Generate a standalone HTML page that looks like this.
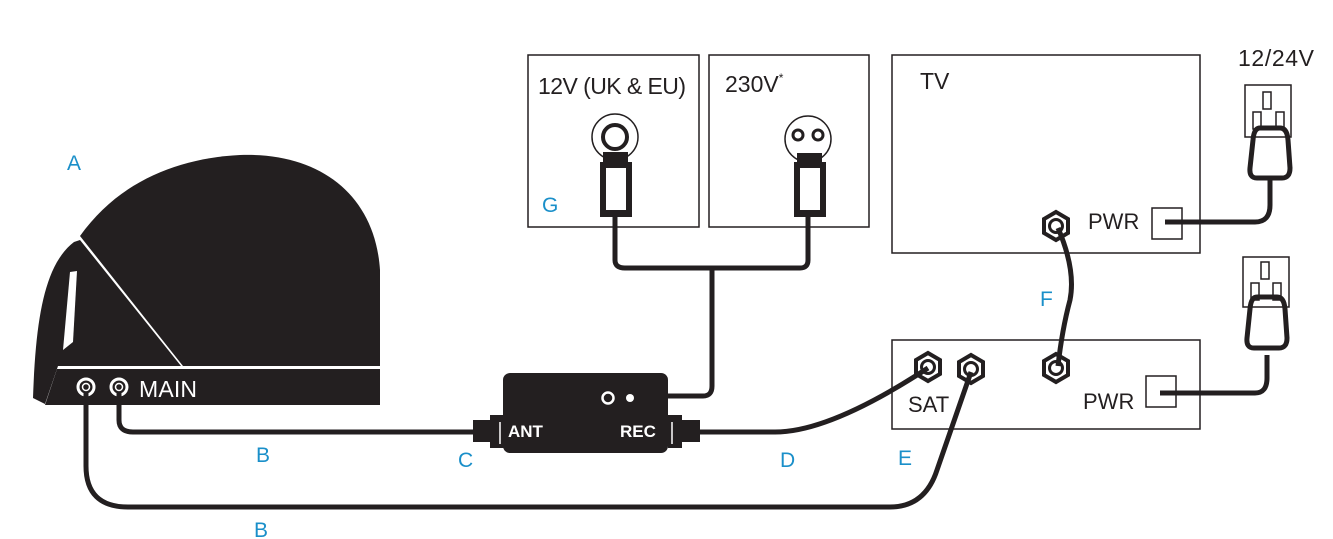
<!DOCTYPE html>
<html><head><style>
body{margin:0;background:#fff;}
svg{display:block;}
text{font-family:"Liberation Sans",sans-serif;}
</style></head><body>
<svg width="1333" height="539" viewBox="0 0 1333 539" xmlns="http://www.w3.org/2000/svg">
<!-- dome -->
<path d="M80,236 C120,180 180,158 240,155 C320,152 375,195 380,270 L380,366 L183,366 Z" fill="#231f20"/>
<path d="M74,242 L80,240 L181,366 L58,366 L45,404 L33,398 C35,340 40,300 52,272 C58,258 66,248 74,242 Z" fill="#231f20"/>
<path d="M70,272 L77,271 L73,342 L63,350 Z" fill="#fff"/>
<path d="M57,369 L380,369 L380,405 L45,405 Z" fill="#231f20"/>
<circle cx="86" cy="387" r="8" fill="none" stroke="#fff" stroke-width="3"/>
<circle cx="86" cy="387" r="3.5" fill="none" stroke="#fff" stroke-width="1.5"/>
<circle cx="119" cy="387" r="8" fill="none" stroke="#fff" stroke-width="3"/>
<circle cx="119" cy="387" r="3.5" fill="none" stroke="#fff" stroke-width="1.5"/>
<text x="139" y="397" font-size="23" fill="#fff" textLength="58">MAIN</text>
<!-- cables -->
<g fill="none" stroke="#231f20" stroke-width="5" stroke-linejoin="round">
<path d="M119,392 L119,420 Q119,432 133,432 L475,432"/>
<path d="M86,392 L86,466 Q86,507 128,507 L890,507 Q925,507 937,470 L971,372"/>
<path d="M700,432 L775,432 Q830,432 928,368"/>
<path d="M668,396 L703,396 Q712,396 712,386 L712,268"/>
<path d="M615,215 L615,260 Q615,268 625,268 L800,268 Q808,268 808,260 L808,215"/>
<path d="M1058,228 Q1076,270 1070,300 Q1062,330 1058,366"/>
<path d="M1165,222 L1255,222 Q1270,222 1270,205 L1270,178"/>
<path d="M1160,393 L1255,393 Q1267,393 1267,378 L1267,355"/>
</g>
<!-- splitter box -->
<rect x="503" y="373" width="165" height="80" rx="7" fill="#231f20"/>
<rect x="473" y="420" width="20" height="22" fill="#231f20"/>
<rect x="490" y="415" width="14" height="33" fill="#231f20"/>
<rect x="668" y="415" width="14" height="33" fill="#231f20"/>
<rect x="680" y="420" width="20" height="22" fill="#231f20"/>
<line x1="500" y1="422" x2="500" y2="444" stroke="#fff" stroke-width="1.5"/>
<line x1="672" y1="422" x2="672" y2="444" stroke="#fff" stroke-width="1.5"/>
<text x="508" y="437" font-size="17" font-weight="bold" fill="#fff">ANT</text>
<text x="620" y="437" font-size="17" font-weight="bold" fill="#fff">REC</text>
<circle cx="608" cy="398" r="5.5" fill="none" stroke="#fff" stroke-width="2.5"/>
<circle cx="630" cy="398" r="4" fill="#fff"/>
<!-- power boxes -->
<g fill="none" stroke="#231f20" stroke-width="1.5">
<rect x="528" y="55" width="171" height="172"/>
<rect x="709" y="55" width="160" height="172"/>
<rect x="892" y="55" width="308" height="198"/>
<rect x="892" y="340" width="308" height="89"/>
<rect x="1152" y="208" width="30" height="31"/>
<rect x="1146" y="376" width="30" height="31"/>
<rect x="1245" y="85" width="46" height="52"/>
<rect x="1243" y="257" width="46" height="50"/>
<rect x="1263" y="92" width="8" height="17"/>
<rect x="1253" y="112" width="8" height="17"/>
<rect x="1276" y="112" width="8" height="17"/>
<rect x="1261" y="262" width="8" height="17"/>
<rect x="1251" y="283" width="8" height="17"/>
<rect x="1273" y="283" width="8" height="17"/>
<circle cx="615" cy="137" r="23"/>
<circle cx="808" cy="139" r="23"/>
</g>
<text x="538" y="94" font-size="23" fill="#231f20" textLength="148">12V (UK &amp; EU)</text>
<text x="725" y="92" font-size="23" fill="#231f20">230V<tspan font-size="12" dy="-10">*</tspan></text>
<text x="920" y="89" font-size="23" fill="#231f20">TV</text>
<text x="1238" y="66" font-size="23" fill="#231f20" textLength="76">12/24V</text>
<text x="1088" y="229" font-size="22" fill="#231f20">PWR</text>
<text x="1083" y="409" font-size="22" fill="#231f20">PWR</text>
<text x="908" y="412" font-size="22" fill="#231f20">SAT</text>
<circle cx="615" cy="137" r="12" fill="none" stroke="#231f20" stroke-width="4"/>
<circle cx="798" cy="135" r="5" fill="none" stroke="#231f20" stroke-width="3"/>
<circle cx="818" cy="135" r="5" fill="none" stroke="#231f20" stroke-width="3"/>
<rect x="603" y="152" width="25" height="12" fill="#231f20"/>
<rect x="600" y="162" width="32" height="55" fill="#231f20"/>
<rect x="606" y="168" width="20" height="42" fill="#fff"/>
<rect x="797" y="153" width="25" height="12" fill="#231f20"/>
<rect x="794" y="162" width="32" height="55" fill="#231f20"/>
<rect x="800" y="168" width="20" height="42" fill="#fff"/>
<!-- plugs -->
<path d="M1260,128 L1280,128 Q1287,128 1288,140 L1290,168 Q1290,178 1282,178 L1257,178 Q1249,178 1250,168 L1253,140 Q1254,128 1260,128 Z" fill="none" stroke="#231f20" stroke-width="5"/>
<path d="M1257,297 L1277,297 Q1284,297 1285,309 L1287,338 Q1287,348 1279,348 L1254,348 Q1246,348 1247,338 L1250,309 Q1251,297 1257,297 Z" fill="none" stroke="#231f20" stroke-width="5"/>
<!-- hex connectors -->
<g fill="none" stroke="#231f20">
<g transform="translate(1056,226)"><polygon points="0,-14 12,-7 12,7 0,14 -12,7 -12,-7" stroke-width="4"/><circle r="6.5" stroke-width="3"/></g>
<g transform="translate(1056,368)"><polygon points="0,-14 12,-7 12,7 0,14 -12,7 -12,-7" stroke-width="4"/><circle r="6.5" stroke-width="3"/></g>
<g transform="translate(928,367)"><polygon points="0,-14 12,-7 12,7 0,14 -12,7 -12,-7" stroke-width="4"/><circle r="6.5" stroke-width="3"/></g>
<g transform="translate(971,369)"><polygon points="0,-14 12,-7 12,7 0,14 -12,7 -12,-7" stroke-width="4"/><circle r="6.5" stroke-width="3"/></g>
</g>
<!-- labels -->
<g fill="#1a8fc9" font-size="21">
<text x="67" y="170">A</text>
<text x="256" y="462">B</text>
<text x="254" y="537">B</text>
<text x="458" y="467">C</text>
<text x="780" y="467">D</text>
<text x="898" y="465">E</text>
<text x="1040" y="306">F</text>
<text x="542" y="212">G</text>
</g>
</svg>
</body></html>
